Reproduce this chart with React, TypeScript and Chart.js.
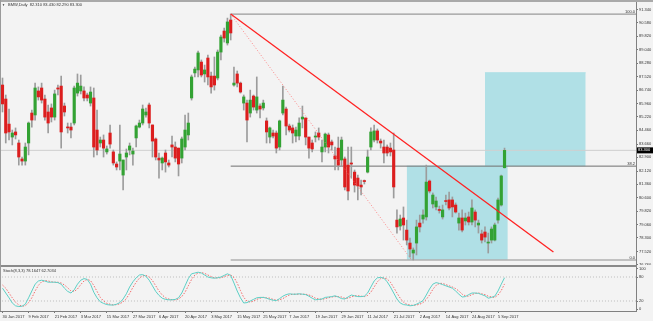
import React, { useEffect, useRef } from 'react';
import { Chart, registerables } from 'chart.js';

Chart.register(...registerables);

const FONT = '"Liberation Sans", Arial, sans-serif';
const BG = '#f3f3f3';
const BULL = '#33a233';
const BEAR = '#dc1e1e';
const WICK = '#9c9c9c';
const BOX = '#b0e0e6';

const titleText = 'BMW,Daily  82.310 83.430 82.290 83.300';
const stochTitle = 'Stoch(8,3,3) 78.1647 62.7034';

const dateLabels = ['30 Jan 2017', '9 Feb 2017', '21 Feb 2017', '3 Mar 2017', '15 Mar 2017', '27 Mar 2017', '6 Apr 2017', '20 Apr 2017', '3 May 2017', '15 May 2017', '25 May 2017', '7 Jun 2017', '19 Jun 2017', '29 Jun 2017', '11 Jul 2017', '21 Jul 2017', '2 Aug 2017', '14 Aug 2017', '24 Aug 2017', '5 Sep 2017'];
const dateLabelBars = [0, 8, 16, 24, 32, 40, 48, 56, 64, 72, 80, 88, 96, 104, 112, 120, 128, 136, 144, 152];

const priceTicks = [91.34, 90.58, 89.82, 89.04, 88.28, 87.52, 86.74, 85.96, 85.22, 84.46, 83.66, 82.9, 82.12, 81.36, 80.6, 79.82, 79.06, 78.3, 77.52, 76.76];
const stochTicks = [100, 80, 20, 0];
const stochLevels = [80, 20];

const opens = [87.03, 86.23, 84.80, 84.06, 84.35, 83.72, 82.81, 82.69, 83.72, 85.43,
  85.32, 86.69, 86.86, 86.23, 85.49, 85.72, 85.20, 86.86, 86.97, 85.83,
  84.63, 84.63, 84.86, 86.57, 86.69, 86.69, 86.46, 86.00, 86.29, 84.46,
  83.72, 83.89, 83.21, 84.29, 83.21, 82.52, 82.69, 81.89, 82.92, 83.32,
  83.09, 84.01, 84.63, 84.86, 85.32, 85.89, 84.75, 83.95, 82.86, 82.58,
  83.15, 82.58, 83.61, 83.49, 83.43, 82.86, 83.49, 84.18, 86.29, 87.72,
  87.89, 88.34, 87.66, 88.57, 87.54, 87.54, 87.43, 88.91, 90.11, 89.43,
  90.74, 87.03, 87.66, 87.14, 86.00, 86.00, 85.43, 86.40, 85.60, 85.83,
  85.72, 84.98, 84.06, 84.29, 84.29, 83.49, 85.43, 85.66, 84.69, 84.58,
  84.12, 84.12, 85.09, 85.15, 84.06, 83.72, 84.06, 84.29, 83.21, 83.49,
  84.18, 83.78, 82.98, 83.43, 82.75, 82.81, 82.46, 82.58, 82.06, 81.72,
  81.32, 81.55, 82.06, 83.49, 83.89, 84.41, 83.83, 83.49, 83.49, 83.43,
  83.32, 79.32, 78.98, 79.44, 78.75, 78.01, 77.44, 78.01, 79.15, 79.38,
  79.50, 81.55, 80.24, 80.07, 79.90, 79.50, 80.41, 80.47, 80.47, 80.18,
  79.15, 79.44, 79.27, 79.50, 79.21, 79.78, 79.04, 78.53, 78.64, 78.01,
  78.18, 78.18, 79.32, 80.18, 82.31];

const highs = [87.43, 86.46, 85.66, 84.46, 84.58, 83.89, 82.92, 83.72, 84.92, 85.60,
  87.14, 86.92, 87.14, 86.46, 85.89, 85.95, 86.74, 87.03, 87.54, 86.00,
  84.86, 84.86, 86.97, 87.66, 87.60, 86.92, 86.57, 86.92, 86.86, 85.60,
  84.06, 84.18, 83.55, 84.75, 83.32, 82.64, 84.75, 82.75, 83.38, 83.72,
  83.43, 84.75, 85.03, 85.89, 85.72, 86.00, 84.75, 84.01, 83.15, 82.92,
  83.32, 82.75, 84.12, 83.78, 83.43, 84.06, 85.32, 85.43, 87.60, 88.06,
  88.97, 88.46, 88.17, 88.74, 87.77, 88.63, 89.03, 89.88, 90.28, 90.85,
  91.08, 88.06, 87.83, 87.20, 86.46, 86.17, 86.74, 86.46, 87.49, 85.95,
  86.17, 85.15, 84.63, 84.46, 84.41, 85.03, 86.97, 85.77, 84.80, 84.75,
  84.63, 85.15, 85.83, 85.15, 84.06, 83.89, 84.35, 84.58, 83.89, 84.29,
  84.29, 83.89, 83.49, 84.06, 84.06, 82.92, 83.49, 83.49, 82.18, 81.89,
  81.61, 81.61, 83.32, 84.58, 84.75, 84.52, 83.95, 83.89, 83.61, 83.72,
  84.29, 79.90, 79.61, 80.07, 79.32, 78.30, 77.73, 79.32, 79.61, 79.90,
  82.46, 81.61, 80.87, 80.64, 80.12, 80.18, 80.75, 80.92, 80.64, 80.30,
  79.72, 79.90, 79.72, 79.78, 80.47, 79.90, 79.32, 78.75, 78.93, 78.58,
  78.93, 79.15, 80.58, 81.89, 83.43];

const lows = [85.49, 83.72, 83.89, 83.61, 83.95, 82.46, 82.46, 82.46, 83.04, 84.63,
  85.03, 86.17, 86.00, 85.03, 84.29, 84.92, 85.03, 86.46, 83.43, 85.26,
  84.29, 84.01, 84.75, 86.40, 86.52, 86.12, 86.12, 85.83, 82.92, 83.04,
  83.49, 82.92, 83.09, 83.43, 82.46, 82.18, 82.18, 81.04, 82.18, 83.04,
  82.46, 83.49, 84.58, 84.75, 85.20, 84.58, 82.92, 82.75, 81.72, 82.18,
  82.06, 82.35, 82.92, 82.64, 81.84, 82.58, 83.32, 83.89, 86.17, 87.49,
  87.49, 87.49, 87.20, 87.03, 86.57, 86.74, 87.32, 88.46, 89.48, 89.31,
  89.60, 86.97, 86.92, 86.57, 85.60, 83.78, 85.20, 85.60, 85.43, 85.15,
  85.60, 83.72, 83.72, 84.01, 83.15, 83.32, 85.32, 84.18, 84.35, 83.72,
  83.78, 83.89, 84.58, 83.61, 82.86, 83.21, 83.78, 83.89, 82.64, 83.21,
  83.15, 83.32, 82.18, 82.18, 82.41, 81.04, 80.47, 81.72, 80.92, 80.47,
  80.75, 81.38, 82.01, 83.32, 83.78, 83.72, 83.43, 82.58, 82.98, 82.98,
  80.58, 78.58, 78.75, 78.18, 77.90, 77.21, 77.04, 77.33, 78.64, 79.15,
  79.32, 80.87, 80.01, 79.90, 79.72, 79.38, 80.18, 79.90, 79.50, 79.72,
  78.75, 78.64, 79.04, 79.04, 79.04, 78.93, 78.58, 78.01, 78.07, 77.44,
  78.01, 78.13, 79.15, 80.12, 82.29];

const closes = [85.95, 84.29, 84.35, 84.29, 84.18, 82.92, 82.69, 83.49, 84.86, 85.03,
  86.86, 86.35, 86.17, 85.20, 84.86, 85.20, 86.52, 86.80, 84.35, 85.49,
  84.58, 84.46, 86.86, 87.14, 86.97, 86.29, 86.29, 86.63, 83.49, 83.32,
  83.89, 83.43, 83.38, 83.66, 82.58, 82.35, 83.09, 82.75, 83.15, 83.55,
  83.26, 84.69, 84.86, 85.66, 85.49, 84.86, 83.83, 82.92, 82.75, 82.86,
  82.64, 82.46, 83.49, 82.86, 82.52, 83.95, 84.46, 84.86, 87.49, 87.94,
  88.86, 87.60, 87.89, 87.49, 86.92, 87.03, 88.91, 89.77, 89.71, 90.63,
  90.00, 87.14, 87.14, 86.63, 86.35, 85.03, 86.17, 85.77, 86.35, 85.66,
  86.00, 84.35, 84.58, 84.12, 83.43, 84.98, 86.17, 84.69, 84.46, 84.29,
  84.46, 84.86, 85.20, 84.06, 83.43, 83.38, 84.12, 84.06, 83.49, 84.23,
  83.49, 83.61, 82.81, 82.46, 83.89, 81.21, 80.98, 82.52, 81.32, 81.27,
  81.21, 81.52, 82.92, 84.35, 84.41, 83.89, 83.72, 83.15, 83.15, 83.21,
  81.21, 78.93, 79.38, 79.04, 78.18, 77.67, 77.61, 78.93, 78.93, 79.61,
  81.49, 80.98, 80.75, 80.41, 79.87, 79.90, 80.38, 80.01, 80.07, 79.78,
  79.44, 78.75, 79.44, 79.21, 80.01, 79.32, 79.15, 78.18, 78.35, 78.04,
  78.81, 79.04, 80.47, 81.84, 83.30];

const stochMain = [52, 40, 28, 15, 8, 6, 7, 12, 28, 45,
  62, 70, 72, 70, 67, 67, 67, 66, 62, 52,
  44, 40, 48, 62, 72, 76, 74, 62, 42, 28,
  18, 14, 11, 10, 10, 12, 16, 25, 38, 55,
  68, 78, 85, 86, 82, 72, 58, 44, 34, 27,
  24, 23, 23, 24, 28, 40, 58, 76, 88, 90,
  92, 90, 85, 80, 78, 77, 78, 80, 84, 88,
  84, 65, 45, 28, 15, 16, 20, 24, 28, 29,
  29, 27, 24, 22, 21, 26, 32, 36, 38, 37,
  37, 38, 37, 36, 32, 27, 23, 24, 25, 29,
  30, 31, 33, 30, 26, 25, 30, 35, 33, 31,
  31, 32, 40, 55, 70, 78, 79, 77, 68, 55,
  40, 25, 15, 11, 10, 8, 9, 12, 16, 21,
  35, 50, 62, 66, 64, 61, 58, 55, 52, 45,
  37, 30, 31, 36, 40, 40, 39, 36, 33, 27,
  29, 32, 45, 62, 78.16];

const stochSignal = [60, 52, 40, 28, 17, 10, 7, 8, 16, 28,
  45, 59, 68, 71, 70, 68, 67, 67, 65, 60,
  53, 45, 44, 50, 61, 70, 74, 71, 59, 44,
  29, 20, 14, 12, 10, 11, 13, 18, 26, 39,
  54, 67, 77, 83, 84, 80, 71, 58, 45, 35,
  28, 25, 23, 23, 25, 31, 42, 58, 74, 85,
  90, 91, 89, 85, 81, 78, 78, 78, 81, 84,
  85, 79, 65, 46, 29, 20, 17, 20, 24, 27,
  29, 28, 27, 24, 22, 23, 26, 31, 35, 37,
  37, 37, 37, 37, 35, 32, 27, 25, 24, 26,
  28, 30, 31, 31, 30, 27, 27, 30, 33, 33,
  32, 31, 34, 42, 55, 68, 76, 78, 75, 67,
  54, 40, 27, 17, 12, 10, 9, 10, 12, 16,
  24, 35, 49, 59, 64, 64, 61, 58, 55, 51,
  45, 37, 33, 32, 36, 39, 40, 38, 36, 32,
  30, 29, 35, 46, 62.70];

// Fibonacci retracement (high bar -> low bar) and its levels
const fibBars = [70, 125.5];
const fibPrices = [91.08, 77.04];
const fibLevelLabels = ['100.0', '38.2', '0.0'];
const fibLevelPrices = [91.08, 82.40, 77.04];
// Trend line
const trendBars = [70, 169];
const trendPrices = [91.08, 77.50];
// Rectangles [fromBar, toBar, top, bottom]
const zoneBars = [[124, 155], [148, 178.9]];
const zonePrices = [[82.40, 77.04], [87.73, 82.40]];

const X_MIN = -0.767;
const X_MAX = 194.33;
const X_END = 200;

const lastIdx = closes.length - 1;

function lineDs(points: { x: number; y: number }[], color: string, width: number, order: number, dash: number[] = []) {
  return {
    type: 'line' as const,
    data: points,
    borderColor: color,
    borderWidth: width,
    borderDash: dash,
    pointRadius: 0,
    tension: 0,
    fill: false,
    order,
  };
}

const mainOverlay = {
  id: 'mainOverlay',
  afterDraw(chart: any) {
    const { ctx, chartArea, scales } = chart;
    const y = scales.y;
    ctx.save();
    ctx.font = `4px ${FONT}`;
    ctx.fillStyle = '#333';
    ctx.textBaseline = 'middle';
    ctx.textAlign = 'left';
    ctx.font = `3px ${FONT}`;
    ctx.fillText('\u25BC', 2, 5);
    ctx.font = `4px ${FONT}`;
    ctx.fillText(titleText, 8, 5);
    ctx.textAlign = 'right';
    ctx.textBaseline = 'bottom';
    fibLevelLabels.forEach((lbl, k) => {
      ctx.fillText(lbl, chartArea.right - 1, y.getPixelForValue(fibLevelPrices[k]) - 0.6);
    });
    const py = y.getPixelForValue(closes[lastIdx]);
    ctx.fillStyle = '#000';
    ctx.fillRect(chartArea.right + 1, py - 3, 16, 6);
    ctx.fillStyle = '#fff';
    ctx.textAlign = 'left';
    ctx.textBaseline = 'middle';
    ctx.fillText(closes[lastIdx].toFixed(3), chartArea.right + 2, py);
    ctx.restore();
  },
};

const stochOverlay = {
  id: 'stochOverlay',
  afterDraw(chart: any) {
    const { ctx, chartArea } = chart;
    ctx.save();
    ctx.font = `4px ${FONT}`;
    ctx.fillStyle = '#333';
    ctx.textBaseline = 'middle';
    ctx.textAlign = 'left';
    ctx.fillText(stochTitle, chartArea.left + 3, chartArea.top + 4);
    ctx.restore();
  },
};

function mainConfig(): any {
  const zones = zoneBars.map((bars, k) => ({
    type: 'line' as const,
    data: [{ x: bars[0], y: zonePrices[k][0] }, { x: bars[1], y: zonePrices[k][0] }],
    fill: { value: zonePrices[k][1] },
    backgroundColor: BOX,
    borderColor: BOX,
    borderWidth: 1,
    pointRadius: 0,
    order: 20,
  }));
  const fibLines = fibLevelPrices.map((p, k) =>
    lineDs([{ x: fibBars[0], y: p }, { x: X_END, y: p }], ['#9a9a9a', '#6e6e6e', '#b0b0b0'][k], [1.2, 1, 1.5][k], 8)
  );
  return {
    type: 'bar',
    data: {
      datasets: [
        ...zones,
        lineDs([{ x: -2, y: closes[lastIdx] }, { x: X_END, y: closes[lastIdx] }], '#cfcfcf', 1, 9),
        ...fibLines,
        {
          type: 'bar',
          data: opens.map((_, i) => ({ x: i, y: [lows[i], highs[i]] })),
          backgroundColor: WICK,
          barThickness: 1,
          grouped: false,
          order: 6,
        },
        {
          type: 'bar',
          data: opens.map((o, i) => ({ x: i, y: [o, closes[i]] })),
          backgroundColor: opens.map((o, i) => (closes[i] > o ? BULL : closes[i] < o ? BEAR : '#333')),
          barThickness: 2.5,
          minBarLength: 1,
          grouped: false,
          order: 5,
        },
        lineDs(fibBars.map((b, k) => ({ x: b, y: fibPrices[k] })), 'rgba(255,110,110,0.8)', 1, 2, [1, 2]),
        lineDs(trendBars.map((b, k) => ({ x: b, y: trendPrices[k] })), '#ff2222', 1.3, 1),
      ],
    },
    options: {
      animation: false,
      responsive: false,
      maintainAspectRatio: false,
      layout: { padding: { left: 0, right: 0, top: 2, bottom: 0 } },
      plugins: { legend: { display: false }, tooltip: { enabled: false }, title: { display: false } },
      scales: {
        x: { type: 'linear', min: X_MIN, max: X_MAX, offset: false, display: false, grid: { display: false } },
        y: {
          position: 'right',
          min: 76.757,
          max: 91.768,
          afterFit: (s: any) => { s.width = 17; s.paddingTop = 0; s.paddingBottom = 0; },
          afterBuildTicks: (s: any) => { s.ticks = priceTicks.map((v) => ({ value: v })); },
          ticks: {
            autoSkip: false,
            padding: 1,
            color: '#333',
            font: { size: 4, family: FONT },
            callback: (v: any) => Number(v).toFixed(3),
          },
          grid: { drawOnChartArea: false, drawTicks: true, tickLength: 2, color: '#777' },
          border: { display: true, color: '#808080', width: 1 },
        },
      },
    },
    plugins: [mainOverlay],
  };
}

function stochConfig(): any {
  return {
    type: 'line',
    data: {
      datasets: [
        ...stochLevels.map((lv) => lineDs([{ x: -2, y: lv }, { x: X_END, y: lv }], '#bdbdbd', 1, 5, [1, 2])),
        lineDs(stochSignal.map((v, i) => ({ x: i, y: v })), '#f26a6a', 1, 2, [1.5, 1.5]),
        lineDs(stochMain.map((v, i) => ({ x: i, y: v })), '#5ccfc5', 1, 1),
      ],
    },
    options: {
      animation: false,
      responsive: false,
      maintainAspectRatio: false,
      layout: { padding: 0 },
      plugins: { legend: { display: false }, tooltip: { enabled: false } },
      scales: {
        x: {
          type: 'linear',
          min: X_MIN,
          max: X_MAX,
          offset: false,
          afterFit: (s: any) => { s.height = 10; s.paddingLeft = 0; s.paddingRight = 0; },
          afterBuildTicks: (s: any) => { s.ticks = dateLabelBars.map((v) => ({ value: v })); },
          ticks: {
            autoSkip: false,
            maxRotation: 0,
            minRotation: 0,
            align: 'start',
            padding: 1,
            color: '#333',
            font: { size: 4, family: FONT },
            callback: (_v: any, idx: number) => dateLabels[idx],
          },
          grid: { drawOnChartArea: false, drawTicks: true, tickLength: 2, color: '#777' },
          border: { display: true, color: '#808080', width: 1 },
        },
        y: {
          position: 'right',
          min: -5,
          max: 105,
          afterFit: (s: any) => { s.width = 17; s.paddingTop = 0; s.paddingBottom = 0; },
          afterBuildTicks: (s: any) => { s.ticks = stochTicks.map((v) => ({ value: v })); },
          ticks: {
            autoSkip: false,
            padding: 1,
            color: '#333',
            font: { size: 4, family: FONT },
          },
          grid: { drawOnChartArea: false, drawTicks: true, tickLength: 2, color: '#777' },
          border: { display: true, color: '#808080', width: 1 },
        },
      },
    },
    plugins: [stochOverlay],
  };
}

export default function App() {
  const mainRef = useRef<HTMLCanvasElement>(null);
  const stochRef = useRef<HTMLCanvasElement>(null);

  useEffect(() => {
    document.body.style.margin = '0';
    const main = new Chart(mainRef.current as HTMLCanvasElement, mainConfig());
    const stoch = new Chart(stochRef.current as HTMLCanvasElement, stochConfig());
    return () => {
      main.destroy();
      stoch.destroy();
    };
  }, []);

  return (
    <div style={{ position: 'relative', width: 653, height: 321, background: BG, overflow: 'hidden' }}>
      <canvas ref={mainRef} width={653} height={265} style={{ position: 'absolute', left: 0, top: 0, width: 653, height: 265 }} />
      <canvas ref={stochRef} width={653} height={54} style={{ position: 'absolute', left: 0, top: 267, width: 653, height: 54 }} />
      <div style={{ position: 'absolute', left: 0, top: 0, width: 653, height: 2, background: '#a9a9a9' }} />
      <div style={{ position: 'absolute', left: 0, top: 265, width: 637, height: 2, background: '#8a8a8a' }} />
      <div style={{ position: 'absolute', left: 0, top: 0, width: 1, height: 311, background: '#9a9a9a' }} />
    </div>
  );
}
